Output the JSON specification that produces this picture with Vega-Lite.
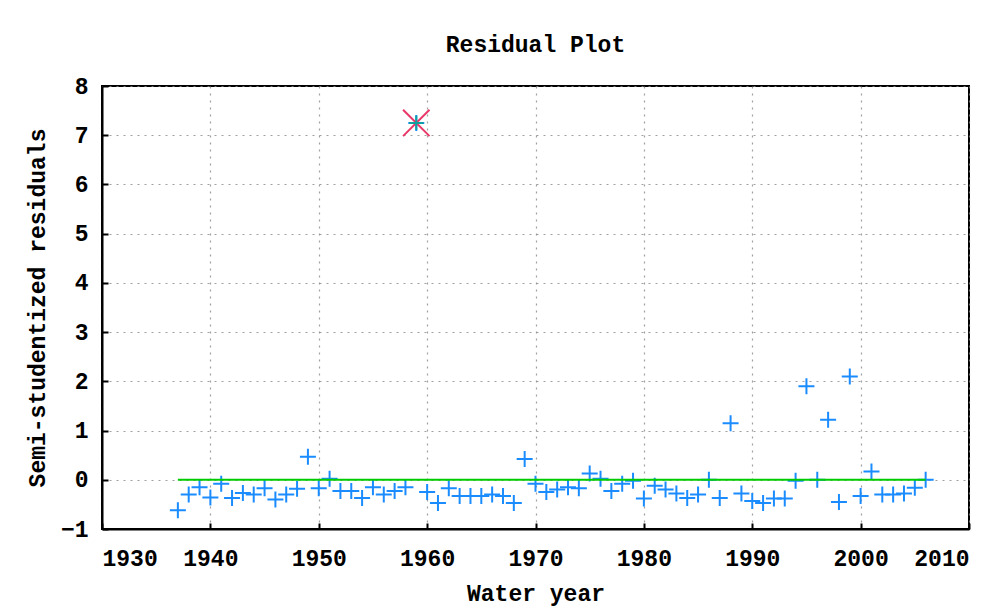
{
  "$schema": "https://vega.github.io/schema/vega-lite/v6.json",
  "autosize": "none",
  "width": 867,
  "height": 443,
  "padding": {"left": 102, "top": 86, "right": 34, "bottom": 79},
  "background": "white",
  "title": {"text": "Residual Plot", "font": "Liberation Mono", "fontSize": 23, "fontWeight": "bold", "color": "black", "offset": 18},
  "config": {
    "view": {"stroke": "black", "strokeWidth": 2},
    "axis": {
      "labelFont": "Liberation Mono", "labelFontSize": 23, "labelFontWeight": "bold", "labelColor": "black",
      "titleFont": "Liberation Mono", "titleFontSize": 23, "titleFontWeight": "bold", "titleColor": "black",
      "domainColor": "black", "domainWidth": 2, "tickColor": "black", "tickWidth": 2, "tickSize": -6,
      "gridColor": "#888888", "gridDash": [2, 5], "gridWidth": 1.2, "gridOpacity": 0.8
    }
  },
  "datasets": {
    "pts": [
      {"year": 1937, "r": -0.62}, {"year": 1938, "r": -0.3}, {"year": 1939, "r": -0.15}, {"year": 1940, "r": -0.36},
      {"year": 1941, "r": -0.08}, {"year": 1942, "r": -0.37}, {"year": 1943, "r": -0.27}, {"year": 1944, "r": -0.3},
      {"year": 1945, "r": -0.17}, {"year": 1946, "r": -0.4}, {"year": 1947, "r": -0.3}, {"year": 1948, "r": -0.18},
      {"year": 1949, "r": 0.47}, {"year": 1950, "r": -0.17}, {"year": 1951, "r": 0.02}, {"year": 1952, "r": -0.23},
      {"year": 1953, "r": -0.23}, {"year": 1954, "r": -0.37}, {"year": 1955, "r": -0.15}, {"year": 1956, "r": -0.3},
      {"year": 1957, "r": -0.23}, {"year": 1958, "r": -0.15}, {"year": 1959, "r": 7.25}, {"year": 1960, "r": -0.25},
      {"year": 1961, "r": -0.47}, {"year": 1962, "r": -0.17}, {"year": 1963, "r": -0.33}, {"year": 1964, "r": -0.33},
      {"year": 1965, "r": -0.33}, {"year": 1966, "r": -0.3}, {"year": 1967, "r": -0.33}, {"year": 1968, "r": -0.47},
      {"year": 1969, "r": 0.42}, {"year": 1970, "r": -0.08}, {"year": 1971, "r": -0.25}, {"year": 1972, "r": -0.2},
      {"year": 1973, "r": -0.15}, {"year": 1974, "r": -0.17}, {"year": 1975, "r": 0.13}, {"year": 1976, "r": 0.02},
      {"year": 1977, "r": -0.23}, {"year": 1978, "r": -0.08}, {"year": 1979, "r": -0.02}, {"year": 1980, "r": -0.38},
      {"year": 1981, "r": -0.12}, {"year": 1982, "r": -0.2}, {"year": 1983, "r": -0.28}, {"year": 1984, "r": -0.37},
      {"year": 1985, "r": -0.3}, {"year": 1986, "r": 0.0}, {"year": 1987, "r": -0.37}, {"year": 1988, "r": 1.15},
      {"year": 1989, "r": -0.28}, {"year": 1990, "r": -0.43}, {"year": 1991, "r": -0.47}, {"year": 1992, "r": -0.38},
      {"year": 1993, "r": -0.38}, {"year": 1994, "r": -0.02}, {"year": 1995, "r": 1.9}, {"year": 1996, "r": 0.0},
      {"year": 1997, "r": 1.22}, {"year": 1998, "r": -0.45}, {"year": 1999, "r": 2.1}, {"year": 2000, "r": -0.33},
      {"year": 2001, "r": 0.17}, {"year": 2002, "r": -0.3}, {"year": 2003, "r": -0.3}, {"year": 2004, "r": -0.28},
      {"year": 2005, "r": -0.16}, {"year": 2006, "r": 0.0}
    ],
    "fit": [{"start": 1937, "end": 2006, "r": 0}],
    "outlier": [{"year": 1959, "r": 7.25}]
  },
  "layer": [
    {
      "data": {"name": "pts"},
      "mark": {"type": "point", "shape": "M-1,0L1,0M0,-1L0,1", "filled": false, "stroke": "#1a8cff", "strokeWidth": 2, "size": 256, "opacity": 1},
      "encoding": {
        "x": {"field": "year", "type": "quantitative", "scale": {"domain": [1930, 2010], "nice": false, "zero": false},
              "axis": {"title": "Water year", "values": [1930, 1940, 1950, 1960, 1970, 1980, 1990, 2000, 2010], "format": "d", "labelPadding": 24, "titlePadding": 12}},
        "y": {"field": "r", "type": "quantitative", "scale": {"domain": [-1, 8], "nice": false},
              "axis": {"title": "Semi-studentized residuals", "values": [-1, 0, 1, 2, 3, 4, 5, 6, 7, 8], "labelPadding": 20, "titlePadding": 11}}
      }
    },
    {
      "data": {"name": "fit"},
      "mark": {"type": "rule", "color": "#00cc00", "strokeWidth": 2},
      "encoding": {
        "x": {"field": "start", "type": "quantitative"},
        "x2": {"field": "end"},
        "y": {"field": "r", "type": "quantitative"}
      }
    },
    {
      "data": {"name": "outlier"},
      "mark": {"type": "point", "shape": "M-1,-1L1,1M1,-1L-1,1", "filled": false, "stroke": "#e8386a", "strokeWidth": 2, "size": 700, "opacity": 1},
      "encoding": {
        "x": {"field": "year", "type": "quantitative"},
        "y": {"field": "r", "type": "quantitative"}
      }
    },
    {
      "data": {"name": "outlier"},
      "mark": {"type": "point", "shape": "M-1,0L1,0M0,-1L0,1", "filled": false, "stroke": "#10a0a0", "strokeWidth": 2, "size": 200, "opacity": 1},
      "encoding": {
        "x": {"field": "year", "type": "quantitative"},
        "y": {"field": "r", "type": "quantitative"}
      }
    }
  ]
}
